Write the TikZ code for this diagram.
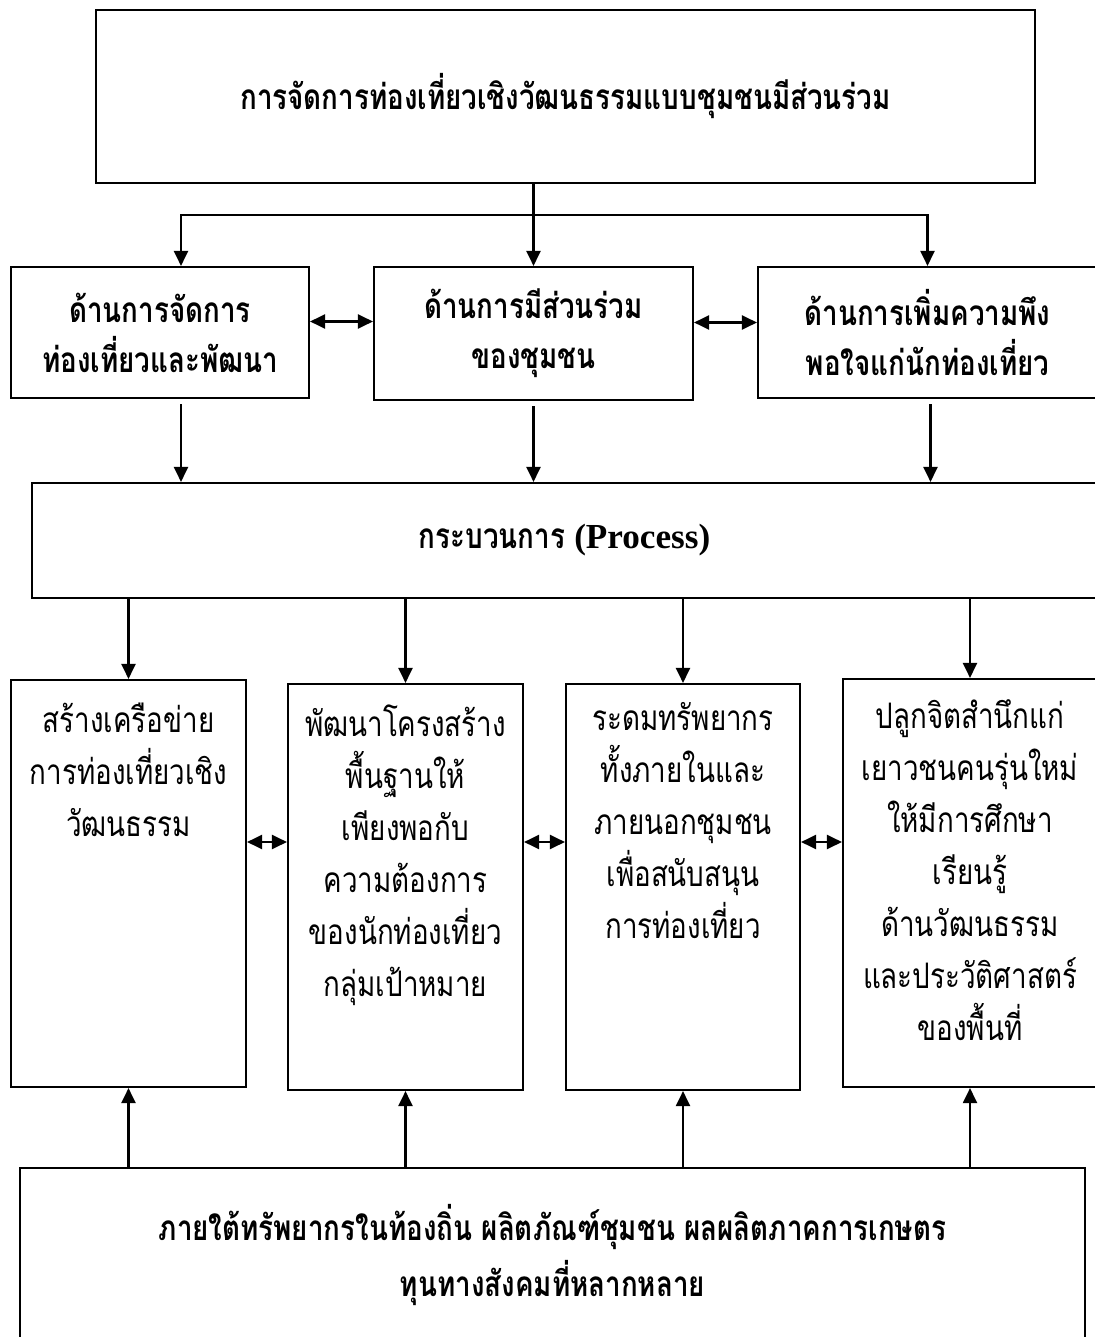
\documentclass[tikz,border=0pt]{standalone}
\usepackage{fontspec}
\usepackage{tikz}
\usetikzlibrary{arrows.meta,calc}

\newfontfamily\thai[Script=Thai,FakeStretch=0.79]{Loma}
\newfontfamily\latin{Liberation Serif}

\tikzset{
	box/.style={draw, line width=0.6pt, inner sep=0pt, align=center},
	head/.style={font={\thai\bfseries\fontsize{10}{14.2}\selectfont}},
	body/.style={font={\thai\fontsize{10}{14.8}\selectfont}, align=center, inner sep=0pt, anchor=north},
	arr/.style={line width=0.6pt, -{Triangle[length=1.5mm,width=1.4mm]}},
	twoway/.style={line width=0.6pt, {Triangle[length=1.5mm,width=1.4mm]}-{Triangle[length=1.5mm,width=1.4mm]}}
}

\begin{document}
\begin{tikzpicture}
	\useasboundingbox (0,0) rectangle (10.95,-13.37);

	% top
	\node[box, head, minimum width=9.39cm, minimum height=1.73cm] (top) at (5.655,-0.965)
		{การจัดการท่องเที่ยวเชิงวัฒนธรรมแบบชุมชนมีส่วนร่วม};

	% second row
	\node[box, head, minimum width=2.98cm, minimum height=1.31cm] (mgmt) at (1.60,-3.325)
		{ด้านการจัดการ\\ท่องเที่ยวและพัฒนา};
	\node[box, head, minimum width=3.19cm, minimum height=1.33cm] (part) at (5.335,-3.335)
		{ด้านการมีส่วนร่วม\\ของชุมชน};
	\node[box, head, minimum width=3.39cm, minimum height=1.31cm] (satis) at (9.275,-3.325)
		{ด้านการเพิ่มความพึง\\พอใจแก่นักท่องเที่ยว};

	\coordinate (split) at (5.33,-2.15);
	\draw[arr] (part.north |- top.south) -- (part.north);
	\draw[arr] (split) -| ([xshift=2.1mm]mgmt.north);
	\draw[arr] (split) -| (satis.north);

	\draw[twoway] ([yshift=1.1mm]mgmt.east) -- ([yshift=1.1mm]mgmt.east -| part.west);
	\draw[twoway] ([yshift=1.1mm]part.east) -- ([yshift=1.1mm]part.east -| satis.west);

	% process
	\node[box, head, minimum width=10.65cm, minimum height=1.15cm] (proc) at (5.645,-5.405)
		{กระบวนการ {\latin (Process)}};

	\draw[arr] ([xshift=2.1mm,yshift=-0.5mm]mgmt.south) -- ([xshift=2.1mm]mgmt.south |- proc.north);
	\draw[arr] ([yshift=-0.5mm]part.south) -- (part.south |- proc.north);
	\draw[arr] ([xshift=0.3mm,yshift=-0.5mm]satis.south) -- ([xshift=0.3mm]satis.south |- proc.north);

	% third row
	\node[box, minimum width=2.35cm, minimum height=4.07cm] (net) at (1.285,-8.835) {};
	\node[box, minimum width=2.35cm, minimum height=4.06cm] (infra) at (4.055,-8.87) {};
	\node[box, minimum width=2.34cm, minimum height=4.06cm] (fund) at (6.83,-8.87) {};
	\node[box, minimum width=2.54cm, minimum height=4.08cm] (youth) at (9.70,-8.83) {};

	\node[body] (nettext) at ([yshift=-2.3mm]net.north)
		{สร้างเครือข่าย\\การท่องเที่ยวเชิง\\วัฒนธรรม};
	\node[body] (infratext) at ([yshift=-2.1mm]infra.north)
		{พัฒนาโครงสร้าง\\พื้นฐานให้\\เพียงพอกับ\\ความต้องการ\\ของนักท่องเที่ยว\\กลุ่มเป้าหมาย};
	\node[body] (fundtext) at ([yshift=-1.9mm]fund.north)
		{ระดมทรัพยากร\\ทั้งภายในและ\\ภายนอกชุมชน\\เพื่อสนับสนุน\\การท่องเที่ยว};
	\node[body] (youthtext) at ([yshift=-2.1mm]youth.north)
		{ปลูกจิตสำนึกแก่\\เยาวชนคนรุ่นใหม่\\ให้มีการศึกษา\\เรียนรู้\\ด้านวัฒนธรรม\\และประวัติศาสตร์\\ของพื้นที่};

	\foreach \n in {net,infra,fund,youth}
		\draw[arr] (proc.south -| \n.north) -- (\n.north);

	\coordinate (mid) at (0,-8.42);
	\draw[twoway] (net.east |- mid) -- (infra.west |- mid);
	\draw[twoway] (infra.east |- mid) -- (fund.west |- mid);
	\draw[twoway] (fund.east |- mid) -- (youth.west |- mid);

	% bottom
	\node[box, minimum width=10.65cm, minimum height=1.74cm,
		font={\thai\bfseries\fontsize{10}{15.9}\selectfont}] (base) at (5.525,-12.55)
		{ภายใต้ทรัพยากรในท้องถิ่น ผลิตภัณฑ์ชุมชน ผลผลิตภาคการเกษตร\\ทุนทางสังคมที่หลากหลาย};

	\foreach \n in {net,infra,fund,youth}
		\draw[arr] (\n.south |- base.north) -- (\n.south);
\end{tikzpicture}
\end{document}
